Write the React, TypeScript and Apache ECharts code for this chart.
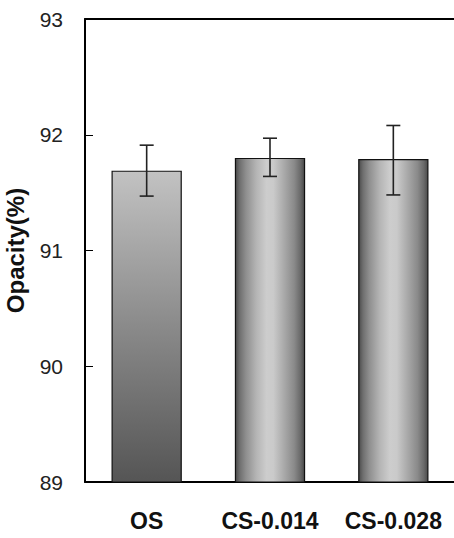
import React, { useEffect, useRef } from "react";
import * as echarts from "echarts";

const categories = ["OS", "CS-0.014", "CS-0.028"];
const values = [91.69, 91.8, 91.79];
const errLow = [91.47, 91.64, 91.48];
const errHigh = [91.91, 91.97, 92.08];

const stripe = {
  type: "linear", x: 0, y: 0, x2: 1, y2: 0,
  colorStops: [
    { offset: 0, color: "#4a4a4a" },
    { offset: 0.06, color: "#6e6e6e" },
    { offset: 0.15, color: "#8e8e8e" },
    { offset: 0.3, color: "#b4b4b4" },
    { offset: 0.45, color: "#cdcdcd" },
    { offset: 0.55, color: "#cacaca" },
    { offset: 0.7, color: "#aaaaaa" },
    { offset: 0.85, color: "#8a8a8a" },
    { offset: 0.94, color: "#6a6a6a" },
    { offset: 1, color: "#4a4a4a" },
  ],
};
const vertical = {
  type: "linear", x: 0, y: 0, x2: 0, y2: 1,
  colorStops: [
    { offset: 0, color: "#c2c2c2" },
    { offset: 0.5, color: "#8a8a8a" },
    { offset: 1, color: "#555555" },
  ],
};

const font = "Liberation Sans, Arial, sans-serif";

export default function App() {
  const ref = useRef<HTMLDivElement>(null);
  useEffect(() => {
    const chart = echarts.init(ref.current!, null, { renderer: "svg" });
    chart.setOption({
      animation: false,
      grid: {
        left: 85, top: 19, width: 370, height: 463,
        outerBoundsMode: "none", containLabel: false,
      },
      xAxis: [
        {
          type: "category",
          data: categories,
          axisLine: { lineStyle: { color: "#000", width: 2 } },
          axisTick: { inside: true, length: 8, lineStyle: { color: "#000" } },
          axisLabel: {
            interval: 0, hideOverlap: false,
            fontFamily: font, fontWeight: "bold", fontSize: 23, color: "#111", margin: 27,
          },
        },
        {
          type: "category",
          data: categories,
          position: "top",
          axisLine: { show: true, lineStyle: { color: "#000", width: 2 } },
          axisTick: { show: false },
          axisLabel: { show: false },
        },
      ],
      yAxis: {
        type: "value",
        min: 89,
        max: 93,
        interval: 1,
        name: "Opacity(%)",
        nameLocation: "middle",
        nameGap: 58,
        nameTextStyle: { fontFamily: font, fontWeight: "bold", fontSize: 24, color: "#111" },
        axisLine: { show: true, lineStyle: { color: "#000", width: 2 } },
        axisTick: { show: true, inside: true, length: 8, lineStyle: { color: "#000" } },
        splitLine: { show: false },
        axisLabel: { fontFamily: font, fontSize: 21, color: "#222", margin: 22 },
      },
      series: [
        {
          type: "bar",
          barWidth: "57%",
          data: values.map((v, i) => ({
            value: v,
            itemStyle: { color: i === 0 ? vertical : stripe, borderColor: "#111", borderWidth: 1.2 },
          })),
        },
        {
          type: "custom",
          z: 10,
          data: categories.map((c, i) => [i, errLow[i], errHigh[i]]),
          renderItem: (params: any, api: any) => {
            const x = api.value(0);
            const lo = api.coord([x, api.value(1)]);
            const hi = api.coord([x, api.value(2)]);
            const w = 7;
            const st = { stroke: "#222", lineWidth: 1.6 };
            return {
              type: "group",
              children: [
                { type: "line", shape: { x1: lo[0], y1: lo[1], x2: hi[0], y2: hi[1] }, style: st },
                { type: "line", shape: { x1: lo[0] - w, y1: lo[1], x2: lo[0] + w, y2: lo[1] }, style: st },
                { type: "line", shape: { x1: hi[0] - w, y1: hi[1], x2: hi[0] + w, y2: hi[1] }, style: st },
              ],
            };
          },
        },
      ],
    });
    return () => chart.dispose();
  }, []);
  return <div ref={ref} style={{ position: "absolute", left: 0, top: 0, width: 454, height: 538 }} />;
}
